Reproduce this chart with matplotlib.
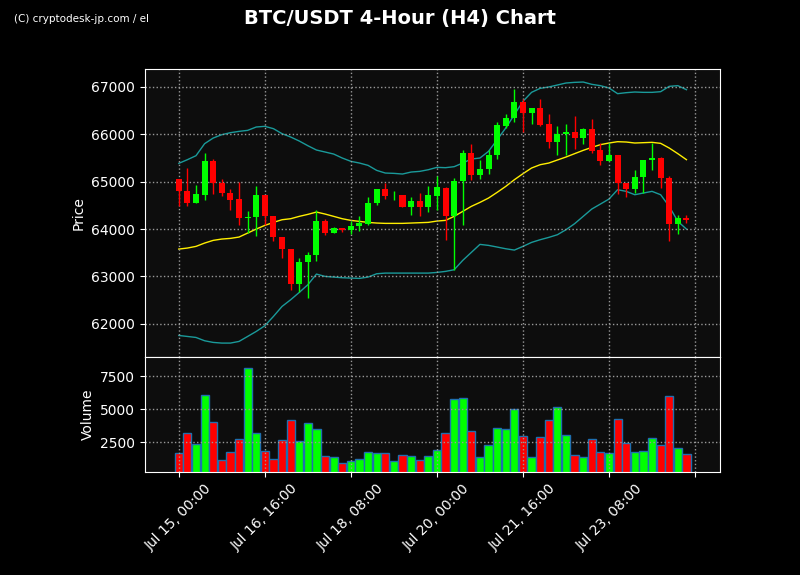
import numpy as np
import matplotlib
matplotlib.use('Agg')
import matplotlib.pyplot as plt

# 4h candles, Jul 15 00:00 -> Jul 24 20:00
opens = [65063, 64810, 64549, 64725, 65444, 64979, 64768, 64641, 64225, 64246,
         64725, 64282, 63838, 63585, 62831, 63296, 63444, 64176, 63916, 64021,
         63986, 64063, 64113, 64542, 64852, 64711, 64725, 64458, 64599, 64458,
         64704, 64866, 64268, 65014, 65606, 65134, 65268, 65563, 66183, 66345,
         66690, 66451, 66563, 66225, 65831, 66007, 66056, 65915, 66120, 65676,
         65430, 65570, 64972, 64838, 65106, 65451, 65507, 65084, 64099, 64232]
closes = [64796, 64549, 64746, 65444, 64965, 64754, 64620, 64225, 64261, 64725,
          64268, 63824, 63578, 62831, 63310, 63458, 64176, 63916, 64021, 63986,
          64070, 64134, 64549, 64852, 64704, 64725, 64458, 64599, 64458, 64725,
          64880, 64268, 65014, 65606, 65134, 65268, 65563, 66204, 66345, 66690,
          66451, 66563, 66204, 65831, 66007, 66056, 65915, 66120, 65655, 65430,
          65570, 64965, 64838, 65106, 65465, 65507, 65070, 64099, 64232, 64183]
highs = [65063, 65282, 64930, 65606, 65479, 65056, 64845, 64986, 64380, 64909,
         64725, 64282, 63838, 63585, 63380, 63507, 64409, 64211, 64042, 64021,
         64162, 64282, 64676, 64852, 64972, 64810, 64725, 64676, 64761, 64901,
         65127, 64880, 65077, 65662, 65796, 65451, 65676, 66254, 66430, 66958,
         66746, 66563, 66746, 66430, 66169, 66218, 66394, 66134, 66324, 65817,
         65817, 65570, 64972, 65254, 65465, 65817, 65521, 65127, 64289, 64289]
lows = [64479, 64479, 64542, 64620, 64746, 64690, 64409, 64085, 63916, 63845,
        64092, 63740, 63387, 62704, 62662, 62535, 63317, 63880, 63916, 63930,
        63895, 63951, 64092, 64514, 64634, 64606, 64458, 64289, 64282, 64352,
        64409, 63775, 63141, 64092, 65042, 65056, 65169, 65479, 66134, 66254,
        66042, 66225, 66169, 65711, 65570, 65570, 65697, 65796, 65606, 65352,
        65430, 64739, 64669, 64761, 64761, 65254, 64866, 63740, 63894, 64127]
volumes = [1679, 3172, 2351, 6083, 3993, 1156, 1754, 2724, 8098, 3172,
           1828, 1231, 2649, 4142, 2575, 3918, 3470, 1455, 1380, 933,
           1082, 1231, 1754, 1679, 1679, 1082, 1530, 1455, 1156, 1455,
           1903, 3172, 5784, 5859, 3321, 1380, 2276, 3545, 3470, 5038,
           2948, 1380, 2873, 4142, 5187, 3022, 1530, 1380, 2724, 1754,
           1679, 4291, 2425, 1754, 1828, 2799, 2276, 6008, 2052, 1604]
bb_mid = [63577, 63599, 63634, 63704, 63761, 63789, 63803, 63831, 63915, 64000,
          64077, 64141, 64197, 64218, 64268, 64310, 64359, 64317, 64268, 64218,
          64183, 64162, 64141, 64127, 64120, 64120, 64120, 64127, 64134, 64141,
          64169, 64183, 64268, 64373, 64479, 64563, 64655, 64775, 64901, 65042,
          65169, 65289, 65359, 65394, 65458, 65521, 65592, 65662, 65725, 65782,
          65817, 65845, 65838, 65817, 65824, 65831, 65810, 65711, 65592, 65465]
bb_up = [65387, 65465, 65549, 65803, 65922, 65993, 66035, 66063, 66084, 66155,
         66169, 66120, 66014, 65944, 65859, 65760, 65669, 65627, 65584, 65500,
         65430, 65394, 65345, 65239, 65183, 65176, 65162, 65204, 65218, 65253,
         65303, 65296, 65317, 65394, 65479, 65500, 65641, 65887, 66134, 66415,
         66697, 66887, 66972, 67000, 67042, 67084, 67098, 67105, 67056, 67028,
         66979, 66859, 66880, 66894, 66887, 66887, 66901, 67014, 67028, 66943]
bb_low = [61753, 61732, 61711, 61641, 61606, 61592, 61592, 61627, 61732, 61838,
          61958, 62155, 62366, 62507, 62662, 62824, 63049, 63000, 62986, 62972,
          62965, 62958, 62986, 63056, 63070, 63070, 63070, 63070, 63070, 63070,
          63084, 63106, 63141, 63338, 63507, 63676, 63655, 63620, 63584, 63556,
          63634, 63718, 63775, 63824, 63880, 63986, 64113, 64268, 64423, 64528,
          64634, 64831, 64796, 64725, 64761, 64796, 64725, 64479, 64162, 64000]
tick_labels = ['Jul 15, 00:00', 'Jul 16, 16:00', 'Jul 18, 08:00', 'Jul 20, 00:00',
               'Jul 21, 16:00', 'Jul 23, 08:00', '']

x = np.arange(len(opens))
colors = ['#00ff00' if c >= o else '#ff0000' for o, c in zip(opens, closes)]

fig = plt.figure(figsize=(8, 5.75), dpi=100, facecolor='black')
gs = fig.add_gridspec(2, 1, height_ratios=[2.5, 1], hspace=0,
                      left=0.181, right=0.9, top=0.88, bottom=0.179)
ax = fig.add_subplot(gs[0])
axv = fig.add_subplot(gs[1], sharex=ax)

for a in (ax, axv):
    a.set_facecolor('#0d0d0d')
    a.grid(True, color='#999999', linestyle=':', linewidth=1)
    a.tick_params(colors='white', labelsize=10)
    for s in a.spines.values():
        s.set_color('white')

# candles
ax.vlines(x, lows, highs, colors=colors, linewidth=1, zorder=2)
body_bottom = np.minimum(opens, closes)
body_h = np.maximum(np.abs(np.array(closes) - np.array(opens)), 8)
ax.bar(x, body_h, bottom=body_bottom, width=0.7, color=colors, zorder=3)

ax.plot(x, bb_up, color='#1a9a9a', linewidth=1, zorder=1)
ax.plot(x, bb_low, color='#1a9a9a', linewidth=1, zorder=1)
ax.plot(x, bb_mid, color='#ffee00', linewidth=1, zorder=1)

ax.set_ylim(61300, 67380)
ax.set_yticks([62000, 63000, 64000, 65000, 66000, 67000])
ax.set_ylabel('Price', color='white', fontsize=10)
plt.setp(ax.get_xticklabels(), visible=False)

axv.bar(x, volumes, width=0.95, color=colors, edgecolor='#1f6fb0', linewidth=1)
axv.set_ylim(230, 8960)
axv.set_yticks([2500, 5000, 7500])
axv.set_ylabel('Volume', color='white', fontsize=10)
axv.set_xlim(-3.95, 62.9)
axv.set_xticks(np.arange(0, 61, 10))
axv.set_xticklabels(tick_labels, rotation=45, ha='center')

fig.suptitle('BTC/USDT 4-Hour (H4) Chart', color='white', fontsize=14,
             fontweight='bold', y=0.985)
fig.text(0.018, 0.962, '(C) cryptodesk-jp.com / el', color='white', fontsize=7.5)

fig.savefig('out.png', dpi=100, facecolor='black')
